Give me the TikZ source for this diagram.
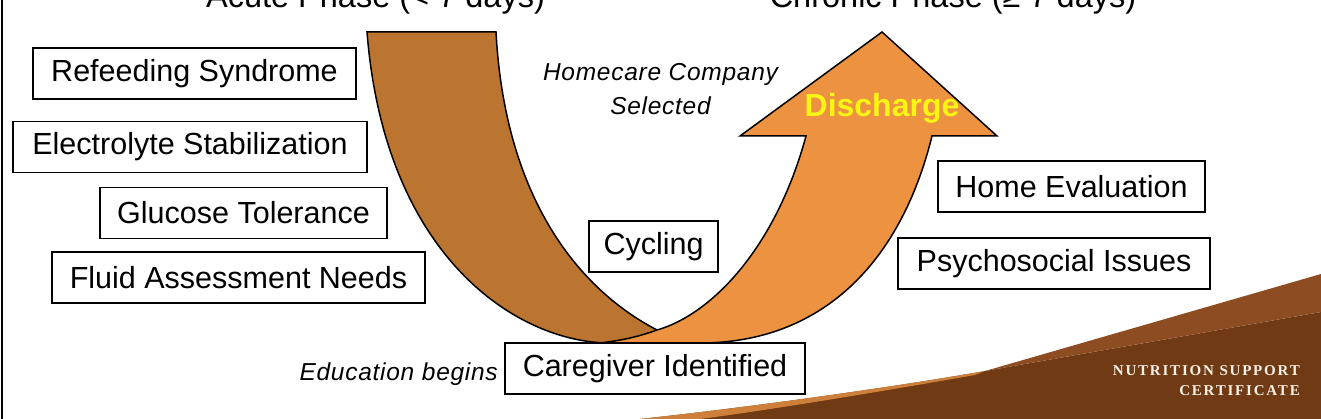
\documentclass[tikz,border=0pt]{standalone}
\usepackage{fontspec}
\setmainfont{Liberation Sans}
\newfontfamily\notefont[LetterSpace=3]{Liberation Sans}
\newfontfamily\certfont[LetterSpace=12]{Liberation Serif}
\usepackage{xcolor}
\usepackage{tikz}

\definecolor{acutebrown}{RGB}{188,117,49}
\definecolor{chronicorange}{RGB}{236,146,64}
\definecolor{swooshdark}{RGB}{112,58,20}
\definecolor{swooshlight}{RGB}{142,76,34}
\definecolor{swooshtan}{RGB}{206,128,58}
\definecolor{certwhite}{RGB}{248,240,230}
\definecolor{dischargeyellow}{RGB}{250,245,20}

\begin{document}
\begin{tikzpicture}[x=1pt,y=-1pt,
    item/.style={draw,line width=1.8pt,fill=white,inner sep=0pt,minimum height=51pt,font=\fontsize{30.5}{36}\selectfont},
    note/.style={inner sep=0pt,font=\notefont\itshape\fontsize{24.5}{34}\selectfont},
    phase/.style={inner sep=0pt,anchor=base,font=\fontsize{32.5}{39}\selectfont},
    cert/.style={inner sep=0pt,anchor=base east,text=certwhite,font=\certfont\bfseries\fontsize{15}{18}\selectfont},
    band/.style={draw,line width=1.5pt,line join=miter}]
    \useasboundingbox (0,0) rectangle (1321,419);
    \clip (0,0) rectangle (1321,419);
    \draw[line width=1.5pt] (2,0) -- (2,419);

    \node[phase] (acute) at (375.5,8) {Acute Phase (< 7 days)};
    \node[phase] (chronic) at (953,8) {Chronic Phase (≥ 7 days)};

    \fill[swooshdark] (640,419) .. controls (760,406) and (900,386) .. (985,371) -- (1321,312) -- (1321,419) -- cycle;
    \fill[swooshlight] (985,371) -- (1321,274) -- (1321,312) -- cycle;
    \fill[swooshtan] (640,419) .. controls (760,406) and (900,386) .. (985,371) -- (975,375) .. controls (890,390) and (770,410) .. (700,419) -- cycle;

    \draw[band,fill=acutebrown] (367,32) -- (496,32) .. controls (505,200) and (580,290) .. (657,330) .. controls (680,341) and (690,343) .. (700,343) -- (610,343) .. controls (520,343) and (385,260) .. (367,32) -- cycle;
    \draw[band,fill=chronicorange] (600,343) .. controls (625,340) and (640,336) .. (657,330) .. controls (710,315) and (775,250) .. (806,136) -- (740,136) -- (882,32) -- (997,136) -- (932,136) .. controls (900,265) and (820,343) .. (700,343) -- cycle;

    \node[inner sep=0pt,anchor=base,text=dischargeyellow,font=\bfseries\fontsize{32}{38}\selectfont] (discharge) at (882,117) {Discharge};

    \node[item,minimum width=323pt] (refeed) at (194.5,73.5) {Refeeding Syndrome};
    \node[item,minimum width=354pt] (lytes) at (190,147) {Electrolyte Stabilization};
    \node[item,minimum width=287pt] (glucose) at (243.5,213) {Glucose Tolerance};
    \node[item,minimum width=373pt] (fluid) at (238.5,277.5) {Fluid Assessment Needs};
    \node[item,minimum width=129pt] (cycling) at (653.5,246.5) {Cycling};
    \node[item,minimum width=300pt] (caregiver) at (655,368.5) {Caregiver Identified};
    \node[item,minimum width=267pt] (home) at (1071.5,186.5) {Home Evaluation};
    \node[item,minimum width=312pt] (psych) at (1054,263.5) {Psychosocial Issues};

    \node[note,align=center,anchor=north] (company) at (660.5,63) {Homecare Company\\Selected};
    \node[note,anchor=base east] (education) at (498,380) {Education begins};

    \node[cert] (cert1) at (1300,375) {NUTRITION SUPPORT};
    \node[cert] (cert2) at (1300,395) {CERTIFICATE};
\end{tikzpicture}
\end{document}
